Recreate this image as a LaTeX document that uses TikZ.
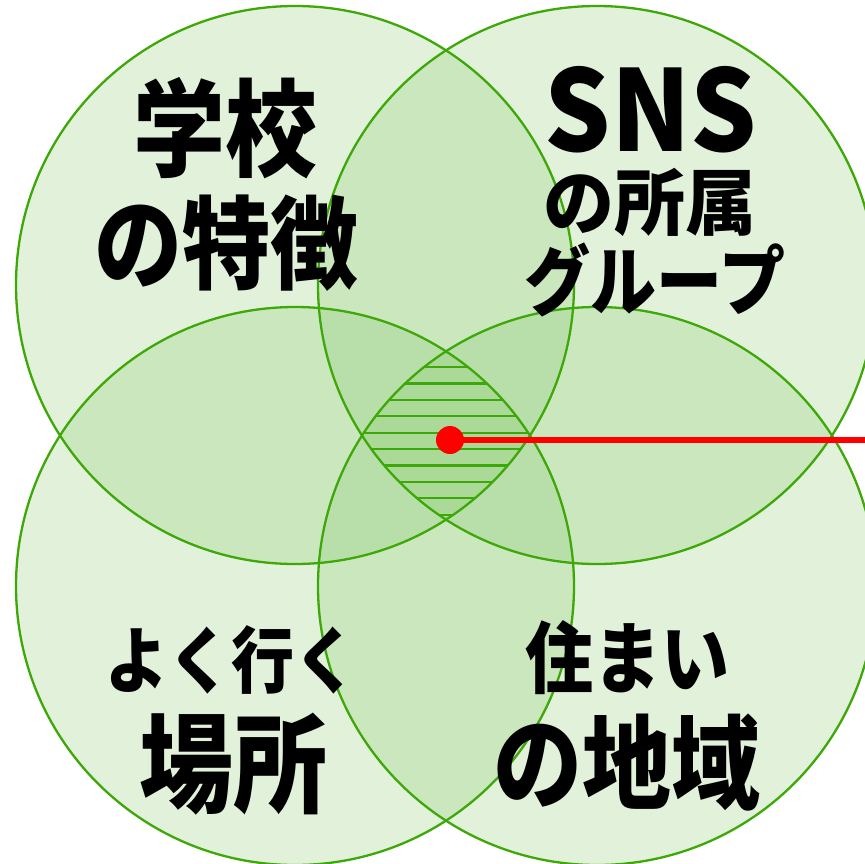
\documentclass[tikz,border=0pt]{standalone}
\usepackage{fontspec}
\newfontfamily\jp{Noto Sans CJK JP Black}
\definecolor{circfill}{RGB}{128,198,100}
\definecolor{circline}{RGB}{62,168,8}
\definecolor{dotred}{RGB}{255,0,0}
\newcommand{\tall}[2][1.15]{\scalebox{1}[#1]{#2}}
\tikzset{
  venn/.style={fill=circfill, fill opacity=0.24, draw=none},
  vennline/.style={draw=circline, line width=2.3pt},
  hatch/.style={draw=circline, line width=2.2pt},
  lbl/.style={font=\jp, text=black, inner sep=0pt, anchor=center},
}
\begin{document}
\begin{tikzpicture}[x=1pt,y=-1pt]
\useasboundingbox (0,0) rectangle (865,863);
\clip (0,0) rectangle (865,863);
\def\R{279}
\coordinate (cTL) at (295,285);
\coordinate (cTR) at (597,285);
\coordinate (cBL) at (295,586);
\coordinate (cBR) at (597,586);
% fills
\fill[venn] (cTL) circle (\R);
\fill[venn] (cTR) circle (\R);
\fill[venn] (cBL) circle (\R);
\fill[venn] (cBR) circle (\R);
% hatching in the common region
\begin{scope}
\clip (cTL) circle (\R);
\clip (cTR) circle (\R);
\clip (cBL) circle (\R);
\clip (cBR) circle (\R);
\foreach \k in {0,...,9}{
  \draw[hatch] (340,{367+16.4*\k}) -- (560,{367+16.4*\k});
}
\end{scope}
% outlines
\draw[vennline] (cTL) circle (\R);
\draw[vennline] (cTR) circle (\R);
\draw[vennline] (cBL) circle (\R);
\draw[vennline] (cBR) circle (\R);
% labels
\node[lbl, font=\jp\fontsize{92}{92}\selectfont] (t1) at (225,128) {\tall{学校}};
\node[lbl, font=\jp\fontsize{88}{88}\selectfont] (t2) at (226,243) {\tall{の特徴}};
\node[lbl, font=\jp\fontsize{104}{104}\selectfont] (t3) at (651,110) {\tall[1.08]{SNS}};
\node[lbl, font=\jp\fontsize{71}{71}\selectfont] (t4) at (650,202) {\tall[1.02]{の所属}};
\node[lbl, font=\jp\fontsize{66}{66}\selectfont] (t5) at (655,280) {\tall{グループ}};
\node[lbl, font=\jp\fontsize{63}{63}\selectfont] (t6) at (231,660) {\tall{よく行く}};
\node[lbl, font=\jp\fontsize{94}{94}\selectfont] (t7) at (233,764) {\tall{場所}};
\node[lbl, font=\jp\fontsize{68}{68}\selectfont] (t8) at (627,658) {\tall{住まい}};
\node[lbl, font=\jp\fontsize{89}{89}\selectfont] (t9) at (627,763) {\tall{の地域}};
% red pointer
\coordinate (edge) at (866,440);
\node[circle, fill=dotred, minimum size=28pt, inner sep=0pt] (dot) at (450,440) {};
\draw[dotred, line width=6pt] (dot.center) -- (edge);
\end{tikzpicture}
\end{document}
